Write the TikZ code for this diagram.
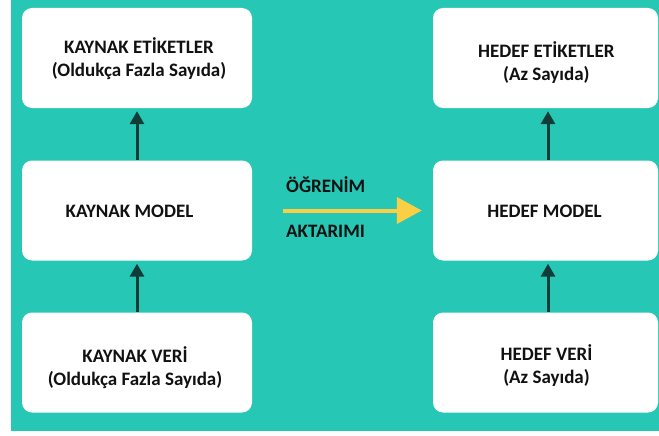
\documentclass[tikz,border=0pt]{standalone}
\usepackage{fontspec}
\setmainfont{Carlito}
\usetikzlibrary{arrows.meta}

\definecolor{bgteal}{HTML}{26C7B4}
\definecolor{arrowdark}{HTML}{0F3B38}
\definecolor{goldline}{HTML}{FBCF45}
\definecolor{ink}{HTML}{111111}

\begin{document}
\begin{tikzpicture}[x=1pt,y=-1pt,
  panel/.style={fill=white, rounded corners=10pt, minimum height=100pt, inner sep=0pt},
  lbl/.style={font=\bfseries\fontsize{19}{23}\selectfont, text=ink, align=center, inner sep=0pt},
  uparrow/.style={draw=arrowdark, line width=3pt, -{Triangle[length=13pt,width=14pt]}, shorten >=3pt},
  transferarrow/.style={draw=goldline, line width=4pt, -{Triangle[length=25pt,width=26pt]}}
]
% canvas and teal panel
\useasboundingbox (0,0) rectangle (659,436);
\fill[white] (0,0) rectangle (659,436);
\fill[bgteal] (11,0) rectangle (659,431);

% source column
\node[panel, minimum width=230pt] (kel)  at (137,58)    {};
\node[panel, minimum width=230pt] (kmod) at (137,210.5) {};
\node[panel, minimum width=230pt] (kver) at (137,362.5) {};

% target column
\node[panel, minimum width=225pt] (hel)  at (545.5,58)    {};
\node[panel, minimum width=225pt] (hmod) at (545.5,210.5) {};
\node[panel, minimum width=225pt] (hver) at (545.5,362.5) {};

% box texts
\node[lbl] (kelt)  at (139,59)      {KAYNAK ETİKETLER\\(Oldukça Fazla Sayıda)};
\node[lbl] (kmodt) at (129.5,211)   {KAYNAK MODEL};
\node[lbl] (kvert) at (135,367.4)   {KAYNAK VERİ\\(Oldukça Fazla Sayıda)};
\node[lbl] (helt)  at (546.3,63)    {HEDEF ETİKETLER\\(Az Sayıda)};
\node[lbl] (hmodt) at (544.5,211)   {HEDEF MODEL};
\node[lbl] (hvert) at (546.5,365.7) {HEDEF VERİ\\(Az Sayıda)};

% vertical flow arrows
\draw[uparrow] (kver.north) -- (kmod.south);
\draw[uparrow] (kmod.north) -- (kel.south);
\draw[uparrow] ([xshift=2.5pt]hver.north) -- ([xshift=2.5pt]hmod.south);
\draw[uparrow] ([xshift=2.5pt]hmod.north) -- ([xshift=2.5pt]hel.south);

% transfer arrow with its two labels
\draw[transferarrow, shorten <=31pt, shorten >=11pt] (kmod.east) -- (hmod.west);
\node[lbl, anchor=base west] (learnlbl) at (286,192.3) {ÖĞRENİM};
\node[lbl, anchor=base west] (movelbl)  at (286,237.3) {AKTARIMI};
\end{tikzpicture}
\end{document}
